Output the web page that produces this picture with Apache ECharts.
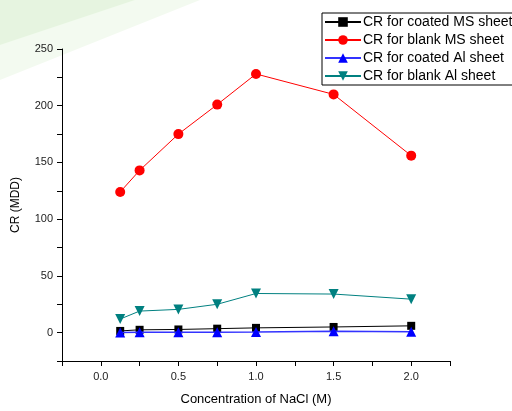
<!DOCTYPE html>
<html>
<head>
<meta charset="utf-8">
<script src="https://cdn.jsdelivr.net/npm/echarts@6/dist/echarts.min.js"></script>
<style>
html,body{margin:0;padding:0;background:#fff;}
#chart{width:512px;height:411px;}
</style>
</head>
<body>
<div id="chart"></div>
<script>
var conc = [0.125, 0.25, 0.5, 0.75, 1.0, 1.5, 2.0];
var coatedMS = [1.5, 2.5, 2.8, 3.5, 4.2, 5.0, 6.0];
var blankMS = [124, 143, 175, 201, 228, 210, 156];
var coatedAl = [0.2, 0.3, 0.3, 0.4, 0.5, 1.2, 0.8];
var blankAl = [12, 19, 20.5, 25, 34.5, 34, 29.5];
var seriesNames = ['CR for coated MS sheet', 'CR for blank MS sheet', 'CR for coated Al sheet', 'CR for blank Al sheet'];

function pairs(ys) {
	return conc.map(function (x, i) { return [x, ys[i]]; });
}

var chart = echarts.init(document.getElementById('chart'));
chart.setOption({
	animation: false,
	textStyle: { fontFamily: 'Liberation Sans, Arial, sans-serif' },
	// faint watermark behind the plot
	graphic: [
		{
			type: 'polygon', silent: true, z: -10,
			shape: { points: [[0, 0], [200, 0], [0, 80]] },
			style: { fill: 'rgba(215,240,205,0.3)' }
		},
		{
			type: 'polygon', silent: true, z: -9,
			shape: { points: [[0, 0], [135, 0], [0, 45]] },
			style: { fill: 'rgba(205,235,195,0.35)' }
		},
		{
			type: 'arc', silent: true, z: -10,
			shape: { cx: 1000, cy: -150, r: 160, startAngle: Math.PI * 0.55, endAngle: Math.PI * 0.9 },
			style: { stroke: 'rgba(180,180,180,0.35)', lineWidth: 8, fill: 'none' }
		}
	],
	legend: {
		data: seriesNames,
		orient: 'vertical',
		left: 322,
		top: 13,
		padding: [2, 20, 2, 2],
		itemWidth: 36,
		itemHeight: 12,
		itemGap: 4,
		borderColor: '#000',
		borderWidth: 1,
		backgroundColor: '#fff',
		textStyle: { fontSize: 14, color: '#000', padding: [0, 0, 0, -3] }
	},
	grid: { left: 62, right: 62, top: 49, bottom: 45 },
	xAxis: {
		type: 'value',
		min: -0.25,
		max: 2.25,
		interval: 0.25,
		name: 'Concentration of NaCl (M)',
		nameLocation: 'middle',
		nameGap: 32,
		nameTextStyle: { fontSize: 13, color: '#000' },
		axisLine: { show: true, onZero: false, lineStyle: { color: '#000', width: 1 } },
		axisTick: { show: true, length: 5, lineStyle: { color: '#000' } },
		axisLabel: {
			fontSize: 11, color: '#222', margin: 10,
			showMinLabel: true, showMaxLabel: true,
			formatter: function (v) {
				var r = Math.round(v * 100) / 100;
				return (Math.abs(r * 2 - Math.round(r * 2)) < 1e-6 && r >= 0 && r <= 2) ? r.toFixed(1) : '';
			}
		},
		splitLine: { show: false }
	},
	yAxis: {
		type: 'value',
		min: -25,
		max: 250,
		interval: 25,
		name: 'CR (MDD)',
		nameLocation: 'middle',
		nameGap: 40,
		nameTextStyle: { fontSize: 12, color: '#000' },
		axisLine: { show: true, onZero: false, lineStyle: { color: '#000', width: 1 } },
		axisTick: { show: true, length: 5, lineStyle: { color: '#000' } },
		axisLabel: {
			fontSize: 11, color: '#222', margin: 9,
			formatter: function (v) { return (v % 50 === 0) ? String(v) : ''; }
		},
		splitLine: { show: false }
	},
	series: [
		{
			name: seriesNames[0], type: 'line', data: pairs(coatedMS),
			symbol: 'rect', symbolSize: 8,
			itemStyle: { color: '#000' }, lineStyle: { color: '#000', width: 1 }, z: 3
		},
		{
			name: seriesNames[1], type: 'line', data: pairs(blankMS),
			symbol: 'circle', symbolSize: 10,
			itemStyle: { color: '#ff0000' }, lineStyle: { color: '#ff0000', width: 1 }
		},
		{
			name: seriesNames[2], type: 'line', data: pairs(coatedAl),
			symbol: 'triangle', symbolSize: 10,
			itemStyle: { color: '#0000ff' }, lineStyle: { color: '#3333ff', width: 1.5 }, z: 4
		},
		{
			name: seriesNames[3], type: 'line', data: pairs(blankAl),
			symbol: 'triangle', symbolRotate: 180, symbolSize: 10,
			itemStyle: { color: '#008080' }, lineStyle: { color: '#008080', width: 1 }
		}
	]
});
</script>
</body>
</html>
